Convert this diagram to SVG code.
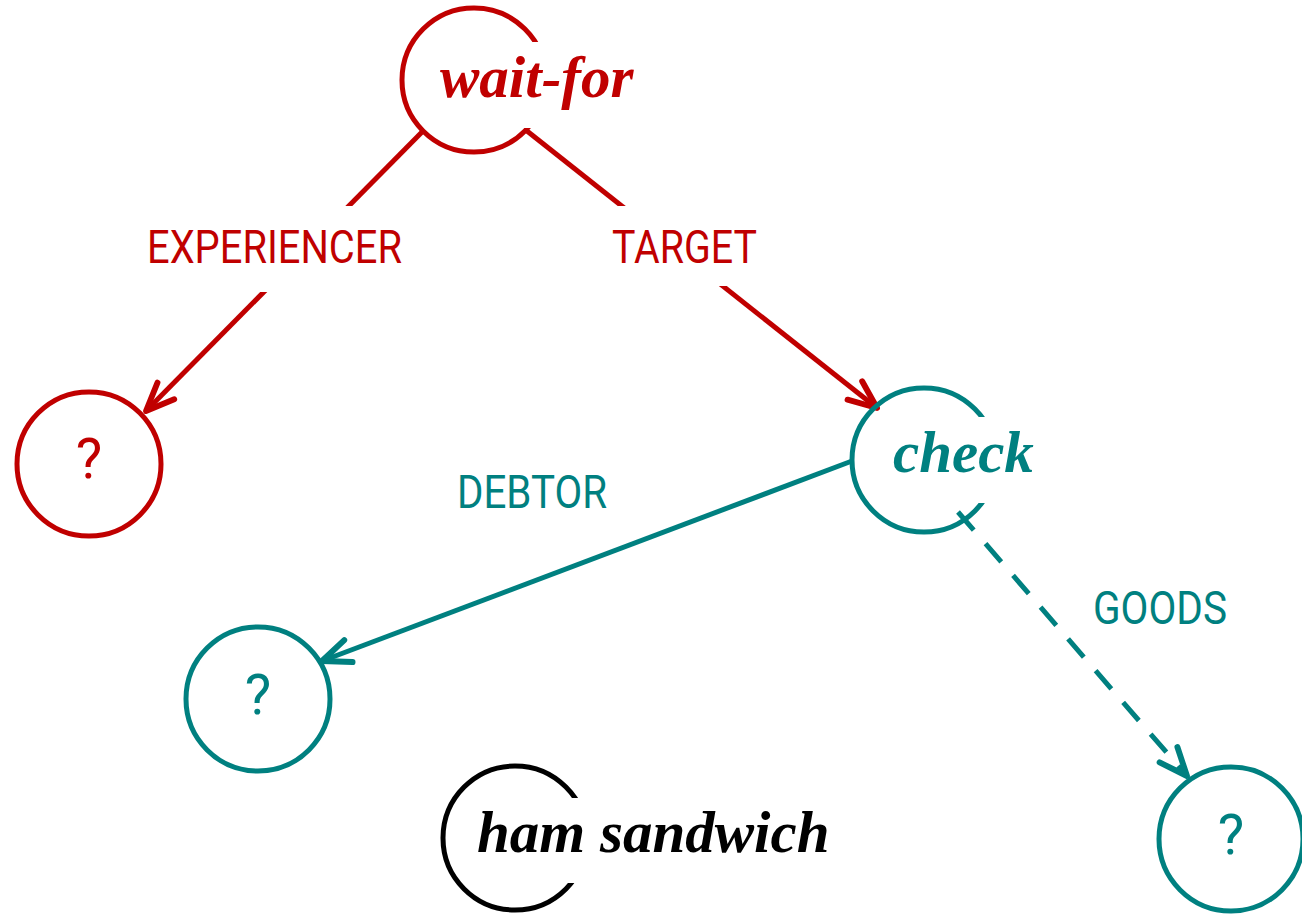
<svg xmlns="http://www.w3.org/2000/svg" width="1302" height="914" viewBox="0 0 1302 914">
<defs>
<style>
.red{stroke:#c00000;color:#c00000}
.teal{stroke:#008080;color:#008080}
.node{fill:none;stroke-width:5}
.conn{fill:none;stroke-width:5}
.bg{fill:#ffffff;stroke:none}
.title{font-family:"Liberation Serif","Times New Roman",serif;font-style:italic;font-weight:bold;font-size:59px}
.lbl{font-family:Roboto,"Liberation Sans",sans-serif;font-size:46px}
.q{font-family:Roboto,"Liberation Sans",sans-serif;font-size:56px;text-anchor:middle}
</style>
<marker id="ah-red" markerUnits="userSpaceOnUse" markerWidth="40" markerHeight="40" viewBox="-30 -15 34 30" refX="0" refY="0" orient="auto">
<path d="M-24,-10 L0,0 L-24,10" fill="none" stroke="#c00000" stroke-width="5" stroke-linecap="round" stroke-linejoin="round"/>
</marker>
<marker id="ah-teal" markerUnits="userSpaceOnUse" markerWidth="40" markerHeight="40" viewBox="-30 -15 34 30" refX="0" refY="0" orient="auto">
<path d="M-24,-10 L0,0 L-24,10" fill="none" stroke="#008080" stroke-width="5" stroke-linecap="round" stroke-linejoin="round"/>
</marker>
</defs>
<rect width="1302" height="914" fill="#ffffff"/>
<g id="connectors">
<line class="conn red" x1="423" y1="131" x2="146" y2="411" marker-end="url(#ah-red)"/>
<line class="conn red" x1="527" y1="131" x2="877" y2="408" marker-end="url(#ah-red)"/>
<line class="conn teal" x1="852" y1="461" x2="322" y2="661" marker-end="url(#ah-teal)"/>
<line class="conn teal" x1="958" y1="512" x2="1187" y2="776" stroke-dasharray="24 18" marker-end="url(#ah-teal)"/>
<rect class="bg" x="140" y="206" width="270" height="86"/>
<text class="lbl" x="147" y="263" fill="#c00000" textLength="255" lengthAdjust="spacingAndGlyphs">EXPERIENCER</text>
<rect class="bg" x="605" y="206" width="160" height="80"/>
<text class="lbl" x="612" y="263" fill="#c00000" textLength="145" lengthAdjust="spacingAndGlyphs">TARGET</text>
<text class="lbl" x="457" y="508" fill="#008080" textLength="150" lengthAdjust="spacingAndGlyphs">DEBTOR</text>
<text class="lbl" x="1093" y="624" fill="#008080" textLength="134" lengthAdjust="spacingAndGlyphs">GOODS</text>
</g>
<g id="node-wait-for">
<circle class="node red" cx="474" cy="80" r="72"/>
<rect class="bg" x="436" y="42" width="200" height="86"/>
<text class="title" x="440" y="97" fill="#c00000">wait-for</text>
</g>
<g id="node-experiencer">
<circle class="node red" cx="89" cy="464" r="72"/>
<text class="q" x="89" y="478" fill="#c00000">?</text>
</g>
<g id="node-check">
<circle class="node teal" cx="924" cy="460" r="72"/>
<rect class="bg" x="889" y="417" width="150" height="86"/>
<text class="title" x="893" y="472" fill="#008080">check</text>
</g>
<g id="node-debtor">
<circle class="node teal" cx="258" cy="699" r="72"/>
<text class="q" x="258" y="714" fill="#008080">?</text>
</g>
<g id="node-goods">
<circle class="node teal" cx="1231" cy="839" r="72"/>
<text class="q" x="1231" y="854" fill="#008080">?</text>
</g>
<g id="node-ham-sandwich">
<circle class="node" cx="515" cy="838" r="72" stroke="#000000"/>
<rect class="bg" x="472" y="798" width="360" height="85"/>
<text class="title" x="477" y="852" fill="#000000">ham sandwich</text>
</g>
</svg>
